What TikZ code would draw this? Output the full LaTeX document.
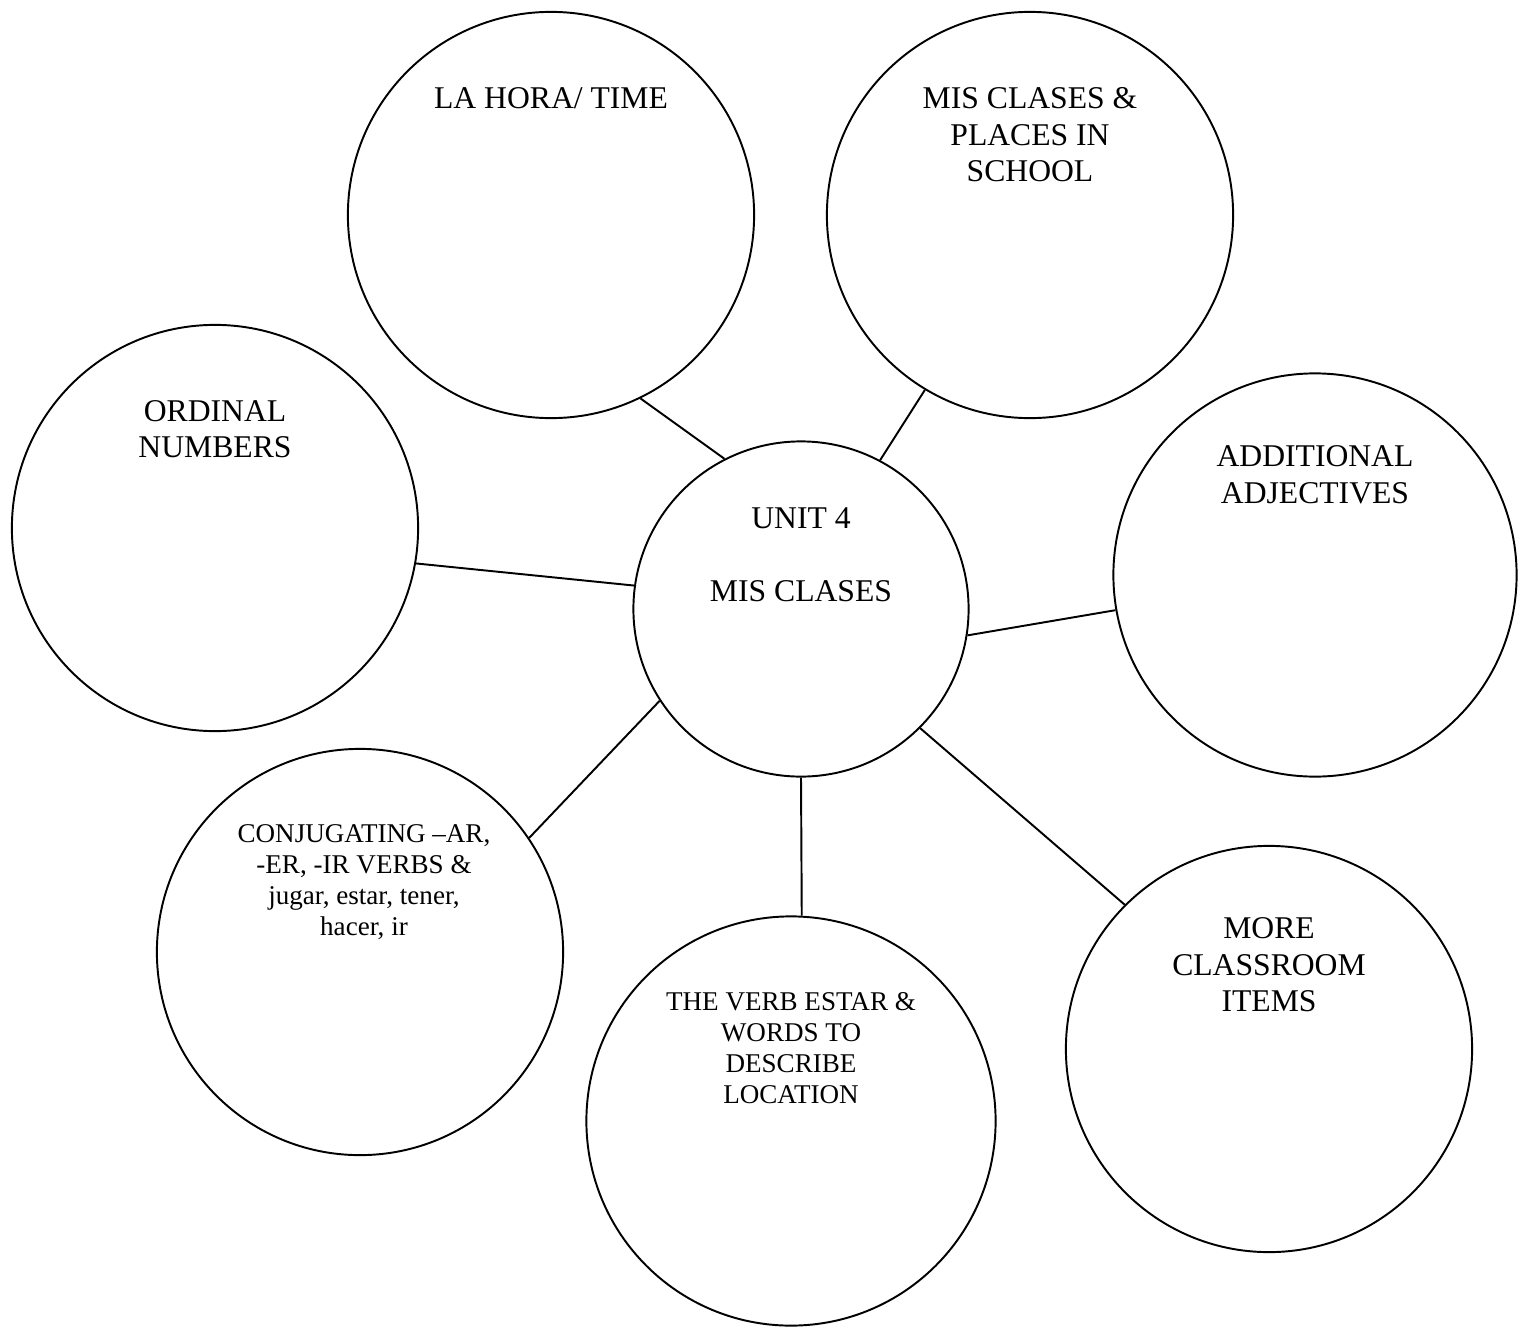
\documentclass[tikz,border=0pt]{standalone}
\usepackage{fontspec}
\setmainfont{Liberation Serif}
\usetikzlibrary{positioning}

\begin{document}
\begin{tikzpicture}[x=0.01cm, y=-0.01cm, line width=0.55pt,
    bubble/.style={draw, circle, inner sep=0pt, minimum size=4.06cm},
    hub/.style={draw, circle, inner sep=0pt, minimum size=3.35cm},
    topic/.style={align=center, font=\fontsize{9}{10.4}\selectfont},
    smalltopic/.style={align=center, font=\fontsize{7.7}{8.8}\selectfont}]
    \useasboundingbox (0,0) rectangle (1530,1330);

    % Centre
    \node[hub] (unit) at (801,609) {};
    \node[topic] (unittxt) at (801,555) {UNIT 4\\[10.4pt]MIS CLASES};

    % Bubbles
    \node[bubble] (hora) at (551,215) {};
    \node[bubble] (clases) at (1030,215) {};
    \node[bubble] (ordinal) at (215,528) {};
    \node[bubble, minimum size=4.03cm] (adj) at (1315,575) {};
    \node[bubble] (conj) at (360,952) {};
    \node[bubble, minimum size=4.09cm] (estar) at (791,1121) {};
    \node[bubble] (items) at (1269,1049) {};

    % Labels
    \node[topic] (horatxt) at (551,98) {LA HORA/ TIME};
    \node[topic] (clasestxt) at (1030,135) {MIS CLASES \&\\PLACES IN\\SCHOOL};
    \node[topic] (ordinaltxt) at (215,429) {ORDINAL\\NUMBERS};
    \node[topic] (adjtxt) at (1315,475) {ADDITIONAL\\ADJECTIVES};
    \node[smalltopic] (conjtxt) at (364,882) {CONJUGATING –AR,\\-ER, -IR VERBS \&\\jugar, estar, tener,\\hacer, ir};
    \node[smalltopic] (estartxt) at (791,1048) {THE VERB ESTAR \&\\WORDS TO\\DESCRIBE\\LOCATION};
    \node[topic] (itemstxt) at (1269,965) {MORE\\CLASSROOM\\ITEMS};

    % Links
    \draw (unit.117.8) -- (hora.296);
    \draw (unit.62.8) -- (clases.239);
    \draw (unit.172) -- (ordinal.350);
    \draw (unit.351.8) -- (adj.190);
    \draw (unit.213.9) -- (conj.34.7);
    \draw (unit.270) -- (estar.87);
    \draw (unit.315.2) -- (items.135.4);
\end{tikzpicture}
\end{document}
